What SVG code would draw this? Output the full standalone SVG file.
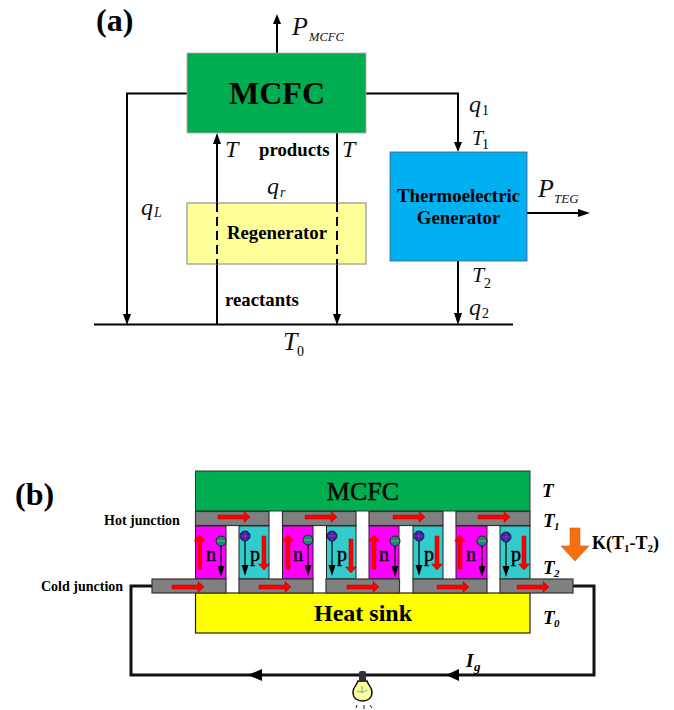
<svg xmlns="http://www.w3.org/2000/svg" width="674" height="710" viewBox="0 0 674 710">
<style>
text{font-family:"Liberation Serif","Times New Roman",serif;fill:#000}
.b{font-weight:bold}
.i{font-style:italic;fill:#111}
.bi{font-weight:bold;font-style:italic}
.w{fill:none;stroke:#000;stroke-width:2}
.w3{fill:none;stroke:#111;stroke-width:3}
.strip{fill:#808080;stroke:#333;stroke-width:1.2}
.n{fill:#f0f;stroke:#222;stroke-width:1}
.p{fill:#33cccc;stroke:#222;stroke-width:1}
.red{fill:#f00;stroke:#a00;stroke-width:.5}
.bk{fill:#000}
.el{fill:#0e8a8a;stroke:#222;stroke-width:1}
.ho{fill:#2222dd;stroke:#222;stroke-width:1}
.lg{font-size:20px;stroke:#000;stroke-width:.5}
.ray{stroke:#222;stroke-width:1;fill:none}
</style>
<defs>
<g id="rr"><path class="red" d="M0-2H26V-5.500L32 0L26 5.500V2H0Z"/></g>
<g id="ru"><path class="red" d="M-2 34V6H-5.500L0 0L5.500 6H2V34Z"/></g>
<g id="rd"><path class="red" d="M-2 0V28H-5.500L0 34L5.500 28H2V0Z"/></g>
<g id="ndown"><circle class="el" r="5"/><path d="M-4 0H4" stroke="#c90" stroke-width="1"/><path d="M0 5V27" stroke="#000" stroke-width="1.200"/><path class="bk" d="M-3.500 25H3.500L0 36Z"/></g>
<g id="pdown"><circle class="ho" r="5"/><path d="M-4 0H4M0-4V4" stroke="#c33" stroke-width="1"/><path d="M0 5V30" stroke="#000" stroke-width="1.200"/><path class="bk" d="M-3.500 29H3.500L0 40Z"/></g>
</defs>

<g id="connectors-a">
<path class="w" d="M277 53V20"/><path class="bk" d="M273 24H281L277 14Z"/>
<path class="w" d="M187 93.500H127V316"/><path class="bk" d="M123 314H131L127 325Z"/>
<path class="w" d="M217 203V142"/><path class="bk" d="M213 144H221L217 133Z"/>
<path class="w" d="M337 133V203"/>
<path class="w" d="M217 264V325"/>
<path class="w" d="M337 264V316"/><path class="bk" d="M333 314H341L337 325Z"/>
<path class="w" d="M366 93.500H458V144"/><path class="bk" d="M454 142H462L458 152Z"/>
<path class="w" d="M527 213H582"/><path class="bk" d="M578 209V217L590 213Z"/>
<path class="w" d="M458 261V316"/><path class="bk" d="M454 313H462L458 325Z"/>
<path class="w" d="M94 324.500H513"/>
</g>
<g id="mcfc-a"><rect x="187" y="53" width="179" height="80" fill="#00ad50" stroke="#c8a0b0" stroke-width=".8"/><text class="b" x="277" y="104" font-size="32" text-anchor="middle">MCFC</text></g>
<g id="regenerator"><rect x="187" y="203" width="179" height="61" fill="#ffff99" stroke="#808080" stroke-width="1"/>
<path d="M217 203V264M337 203V264" stroke="#000" stroke-width="2" stroke-dasharray="9 5" fill="none"/>
<text class="b" x="277" y="239" font-size="18.800" text-anchor="middle">Regenerator</text></g>
<g id="teg"><rect x="390" y="152" width="137" height="109" fill="#00b0f0" stroke="#557" stroke-width=".8"/>
<text class="b" x="458.500" y="202" font-size="18.800" text-anchor="middle">Thermoelectric</text>
<text class="b" x="458.500" y="224" font-size="18.800" text-anchor="middle">Generator</text></g>
<g id="labels-a">
<text class="b" x="96" y="31" font-size="32">(a)</text>
<text class="i" x="292" y="35" font-size="26">P</text><text class="i" x="309" y="41" font-size="12.500">MCFC</text>
<text class="i" x="225" y="157" font-size="24">T</text>
<text class="b" x="259" y="156" font-size="18.800">products</text>
<text class="i" x="342" y="157" font-size="24">T</text>
<text class="i" x="267" y="194" font-size="24">q</text><text class="i" x="280" y="197" font-size="14">r</text>
<text class="i" x="141" y="215" font-size="24">q</text><text class="i" x="154" y="217" font-size="14">L</text>
<text class="b" x="225" y="306" font-size="18.800">reactants</text>
<text class="i" x="283" y="350" font-size="26">T</text><text x="297" y="356" font-size="14" fill="#222">0</text>
<text class="i" x="469" y="112" font-size="24">q</text><text x="482" y="115" font-size="14" fill="#222">1</text>
<text class="i" x="472" y="145" font-size="20">T</text><text x="482" y="149" font-size="14" fill="#222">1</text>
<text class="i" x="538" y="197" font-size="26">P</text><text class="i" x="554" y="203" font-size="13">TEG</text>
<text class="i" x="472" y="282" font-size="22">T</text><text x="484" y="288" font-size="14" fill="#222">2</text>
<text class="i" x="469" y="315" font-size="24">q</text><text x="482" y="318" font-size="14" fill="#222">2</text>
</g>

<g id="connectors-b">
<path class="w3" d="M152 586H131V675H594V586H573"/>
<path class="bk" d="M248 675L262 669V681Z"/>
<path class="bk" d="M446 675L459 669V681Z"/>
</g>
<g id="mcfc-b"><rect x="195.500" y="471" width="334.500" height="40" fill="#00ad50" stroke="#333"/><text x="363" y="500" font-size="26" text-anchor="middle" stroke="#000" stroke-width=".4">MCFC</text></g>
<g id="heat-sink"><rect x="195.500" y="593" width="334.500" height="40" fill="#ffff00" stroke="#222" stroke-width="1.200"/><text class="b" x="363" y="621" font-size="24" text-anchor="middle">Heat sink</text></g>
<g id="hot-junction">
<rect class="strip" x="195.500" y="511.500" width="73.500" height="14"/><rect class="strip" x="282.500" y="511.500" width="73.500" height="14"/><rect class="strip" x="369" y="511.500" width="74" height="14"/><rect class="strip" x="456" y="511.500" width="74" height="14"/>
<use href="#rr" x="218" y="517"/><use href="#rr" x="305" y="517"/><use href="#rr" x="393" y="517"/><use href="#rr" x="478" y="517"/>
</g>
<g id="legs">
<rect class="n" x="195.500" y="526" width="30.500" height="53"/><rect class="p" x="239" y="526" width="30" height="53"/>
<rect class="n" x="282.500" y="526" width="30.500" height="53"/><rect class="p" x="326.500" y="526" width="29.500" height="53"/>
<rect class="n" x="369" y="526" width="30" height="53"/><rect class="p" x="413" y="526" width="30" height="53"/>
<rect class="n" x="456" y="526" width="31" height="53"/><rect class="p" x="500" y="526" width="30" height="53"/>
<use href="#ru" x="199.500" y="535"/><use href="#rd" x="264" y="536"/><use href="#ru" x="288" y="535"/><use href="#rd" x="351" y="539"/>
<use href="#ru" x="374" y="535"/><use href="#rd" x="437" y="536"/><use href="#ru" x="460" y="535"/><use href="#rd" x="524" y="536"/>
<use href="#ndown" x="221" y="541"/><use href="#pdown" x="245" y="536"/><use href="#ndown" x="308" y="540"/><use href="#pdown" x="332" y="536"/>
<use href="#ndown" x="395" y="541"/><use href="#pdown" x="419" y="536"/><use href="#ndown" x="482" y="541"/><use href="#pdown" x="506" y="537"/>
<text class="lg" x="206" y="561">n</text><text class="lg" x="250" y="561">p</text><text class="lg" x="293" y="561">n</text><text class="lg" x="337" y="561">p</text><text class="lg" x="379" y="561">n</text><text class="lg" x="424" y="561">p</text><text class="lg" x="466" y="561">n</text><text class="lg" x="511" y="561">p</text>
</g>
<g id="cold-junction">
<rect class="strip" x="152" y="579" width="74" height="14"/><rect class="strip" x="239" y="579" width="74" height="14"/><rect class="strip" x="326" y="579" width="73.500" height="14"/><rect class="strip" x="413" y="579" width="74" height="14"/><rect class="strip" x="500" y="579" width="73" height="14"/>
<use href="#rr" x="172" y="587"/><use href="#rr" x="259" y="587"/><use href="#rr" x="347" y="587"/><use href="#rr" x="437" y="587"/><use href="#rr" x="517" y="587"/>
</g>
<g id="bulb">
<path d="M358 681C357 685 353 687 353 692C353 698 357 701 362.500 701C368 701 372 698 372 692C372 687 368 685 367 681Z" fill="#ffff99" stroke="#111" stroke-width="1.500"/>
<rect x="359" y="671" width="7" height="11" rx="2" fill="#333"/>
<path d="M357 691C360 692 364 693 367 690M362 686V693" stroke="#5aa" stroke-width="1" fill="none"/>
<path class="ray" d="M357 705L356 708M364 705V709M370 705L372 708"/>
</g>
<g id="orange-arrow"><path d="M570 528H580V546H589L575 561L561 546H570Z" fill="#f7700f" stroke="#c85a10" stroke-width=".6"/></g>
<g id="labels-b">
<text class="b" x="15" y="505" font-size="32">(b)</text>
<text class="b" x="104" y="525" font-size="14">Hot junction</text>
<text class="b" x="41" y="591" font-size="14">Cold junction</text>
<text class="bi" x="542" y="497" font-size="19">T</text>
<text class="bi" x="543" y="527" font-size="19">T</text><text class="bi" x="554" y="530" font-size="11">1</text>
<text class="bi" x="543" y="574" font-size="19">T</text><text class="bi" x="554" y="577" font-size="11">2</text>
<text class="bi" x="543" y="624" font-size="19">T</text><text class="bi" x="554" y="627" font-size="11">0</text>
<text class="b" x="592" y="549" font-size="18">K(T<tspan font-size="11" dy="3">1</tspan><tspan dy="-3">-T</tspan><tspan font-size="11" dy="3">2</tspan><tspan dy="-3">)</tspan></text>
<text class="bi" x="466" y="667" font-size="19">I</text><text class="bi" x="474" y="671" font-size="13">g</text>
</g>
</svg>
